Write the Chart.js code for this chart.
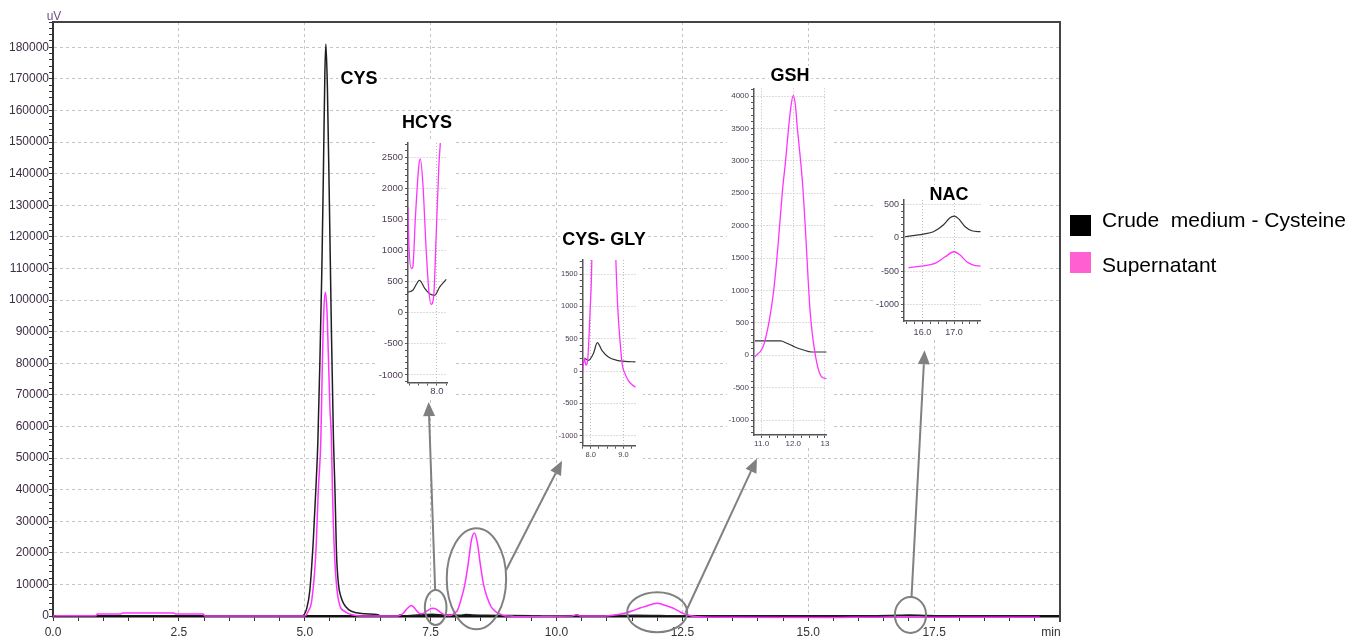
<!DOCTYPE html>
<html>
<head>
<meta charset="utf-8">
<script src="https://cdn.jsdelivr.net/npm/chart.js@4.4.0/dist/chart.umd.min.js"></script>
<style>
  html, body { margin: 0; padding: 0; background: #fff; }
  body { width: 1354px; height: 642px; position: relative; overflow: hidden; font-family: "Liberation Sans", Arial, sans-serif; }
  #main { position: absolute; left: 0; top: 0; }
  .inset { position: absolute; background: #fff; }
  .tag { position: absolute; font-weight: bold; font-size: 18px; line-height: 18px; background: #fff; padding: 0 2px; transform: translate(-50%, -50%); white-space: nowrap; color: #000; }
  .unit { position: absolute; font-size: 12px; line-height: 12px; transform: translate(-50%, -50%); white-space: nowrap; }
  .key { position: absolute; width: 21px; height: 21px; }
  .keytext { position: absolute; left: 1102px; font-size: 21px; line-height: 21px; white-space: pre; color: #000; }
</style>
</head>
<body>
<canvas id="main" width="1354" height="642"></canvas>
<canvas id="hcys" class="inset"></canvas>
<canvas id="cysgly" class="inset"></canvas>
<canvas id="gsh" class="inset"></canvas>
<canvas id="nac" class="inset"></canvas>

<div class="unit" style="left:54px; top:16px; color:#6e4f80;">uV</div>
<div class="unit" style="left:1051px; top:632px; color:#333;">min</div>

<div class="tag" style="left:359px; top:78px;">CYS</div>
<div class="tag" style="left:427px; top:122px;">HCYS</div>
<div class="tag" style="left:604px; top:239px;">CYS- GLY</div>
<div class="tag" style="left:790px; top:75px;">GSH</div>
<div class="tag" style="left:949px; top:194px;">NAC</div>

<div class="key" style="left:1070px; top:215px; background:#000;"></div>
<div class="keytext" style="top:209px;">Crude  medium - Cysteine</div>
<div class="key" style="left:1070px; top:252px; background:#ff5fd0;"></div>
<div class="keytext" style="top:254px;">Supernatant</div>

<script>
// ---- main chromatogram (time in min, signal in uV) ----
const crudeTime = [0, 4.94, 5.04, 5.1, 5.17, 5.22, 5.26, 5.3, 5.34, 5.37, 5.4, 5.42, 5.45, 5.49, 5.53, 5.57, 5.6, 5.63, 5.67, 5.72, 5.77, 5.87, 6.03, 6.2, 6.43, 6.5, 6.85, 6.9, 6.95, 7.3, 7.53, 7.8, 8.08, 8.2, 8.34, 8.6, 9.1, 10.35, 10.4, 10.48, 11.6, 12.05, 12.6, 15.5, 16.35, 16.66, 17.0, 17.35, 17.84, 19.6];
const crudeSignal = [0, 0, 2400, 8000, 24000, 40000, 55000, 80000, 110000, 140000, 172000, 181000, 167000, 130000, 90000, 56000, 40000, 20000, 10000, 6000, 4000, 2000, 1000, 700, 500, 100, 0, 400, 0, 360, 520, 305, 270, 440, 320, 200, 150, 0, 400, 0, 220, 130, 50, 15, 90, 190, 325, 165, 90, 50];

const superTime = [0, 0.08, 0.85, 0.88, 1.35, 1.38, 2.4, 2.43, 2.98, 3.02, 5.0, 5.07, 5.14, 5.22, 5.27, 5.32, 5.35, 5.38, 5.41, 5.44, 5.47, 5.5, 5.53, 5.55, 5.59, 5.67, 5.8, 5.97, 6.1, 6.85, 6.95, 7.05, 7.12, 7.18, 7.22, 7.28, 7.33, 7.42, 7.51, 7.55, 7.62, 7.71, 7.78, 7.84, 7.91, 7.98, 8.03, 8.1, 8.18, 8.25, 8.31, 8.37, 8.43, 8.49, 8.55, 8.62, 8.7, 8.77, 8.83, 8.9, 8.97, 9.05, 9.15, 9.38, 9.7, 10.3, 10.4, 10.48, 10.79, 11.08, 11.37, 11.52, 11.66, 11.76, 11.85, 11.93, 12.0, 12.07, 12.13, 12.23, 12.31, 12.4, 12.53, 12.69, 12.9, 13.06, 15.56, 16.03, 16.4, 16.72, 17.0, 17.19, 17.4, 17.61, 17.84, 19.6];
const superSignal = [0, 100, 100, 630, 630, 950, 950, 630, 630, 0, 0, 1500, 5000, 20000, 40000, 56000, 80000, 97000, 102500, 97000, 82000, 66000, 56000, 40000, 20000, 5000, 1400, 300, 0, 0, 800, 2600, 3300, 2500, 1700, 800, 700, 1540, 2350, 2470, 2080, 1000, 360, 135, 250, 1000, 1700, 5000, 10000, 17000, 24000, 26300, 23000, 16000, 10000, 6000, 3000, 1700, 966, 450, 90, -40, -145, -250, -100, 0, 400, 0, -25, 180, 950, 1700, 2546, 3010, 3500, 3850, 4010, 3850, 3500, 3010, 2546, 1800, 695, 25, -335, -360, -450, -420, -385, -285, -210, -260, -360, -410, -425, -430];

// ---- zoomed panels ----
const hcysSuperTime = [7.22, 7.24, 7.31, 7.35, 7.42, 7.51, 7.55, 7.62, 7.71, 7.78, 7.84, 7.91, 7.98, 8.05, 8.09, 8.12];
const hcysSuper = [1700, 1166, 710, 735, 1540, 2350, 2470, 2080, 1000, 360, 135, 250, 1270, 2350, 2735, 3200];
const hcysCrudeTime = [7.22, 7.35, 7.53, 7.67, 7.8, 7.94, 8.07, 8.25];
const hcysCrude = [330, 360, 520, 390, 305, 280, 410, 535];

const cysglySuperTime = [7.75, 7.8, 7.85, 7.91, 7.98, 8.03, 8.1, 8.18, 8.25, 8.31, 8.37, 8.43, 8.49, 8.55, 8.62, 8.7, 8.77, 8.83, 8.9, 8.97, 9.05, 9.15, 9.26, 9.38];
const cysglySuper = [10, 190, 90, 217, 966, 1714, 5000, 10000, 17000, 24000, 26300, 23000, 16000, 10000, 6000, 3000, 1714, 966, 450, 90, -40, -145, -210, -250];
const cysglyCrudeTime = [7.8, 7.93, 8.08, 8.2, 8.34, 8.54, 8.8, 9.05, 9.38];
const cysglyCrude = [200, 165, 270, 440, 320, 217, 165, 150, 140];

const gshSuperTime = [10.79, 11.08, 11.37, 11.52, 11.66, 11.76, 11.85, 11.93, 12.0, 12.07, 12.13, 12.23, 12.31, 12.4, 12.53, 12.69, 12.9, 13.06];
const gshSuper = [-25, 180, 950, 1700, 2546, 3010, 3500, 3850, 4010, 3850, 3500, 3010, 2546, 1800, 695, 25, -335, -360];
const gshCrudeTime = [10.79, 11.6, 11.8, 12.05, 12.3, 12.58, 13.06];
const gshCrude = [220, 220, 185, 128, 85, 50, 50];

const nacSuperTime = [15.56, 16.03, 16.4, 16.72, 17.0, 17.19, 17.4, 17.61, 17.84];
const nacSuper = [-450, -420, -385, -285, -210, -260, -360, -410, -425];
const nacCrudeTime = [15.45, 16.03, 16.35, 16.66, 16.87, 17.0, 17.13, 17.35, 17.56, 17.84];
const nacCrude = [15, 55, 90, 190, 300, 325, 290, 165, 105, 90];

// callouts on the main trace: [centre min, centre uV, half-width min, half-height uV]
const rings = [[7.60, 2690, 0.215, 5540], [8.41, 11770, 0.59, 15980], [12.0, 1170, 0.596, 6330], [17.03, 316, 0.31, 5690]];
// arrows: [from min, from uV, to min, to uV]
const arrows = [[7.59, 8220, 7.46, 67700], [9.0, 14540, 10.11, 49100], [12.56, 1040, 13.98, 49860], [17.05, 5690, 17.31, 84100]];

const PINK = "#ff33ff";
const BLACK = "#1e1e1e";

Chart.defaults.font.family = "'Liberation Sans', Arial, sans-serif";
Chart.defaults.animation = false;

const pts = (t, v) => t.map((x, i) => ({ x, y: v[i] }));
const onStep = (v, step) => Math.abs(v / step - Math.round(v / step)) < 1e-6;

function fitY(w) {
  return s => { s.width = w; s.paddingTop = 0; s.paddingBottom = 0; };
}
function fitX(h) {
  return s => { s.height = h; s.paddingLeft = 0; s.paddingRight = 0; };
}

const calloutPlugin = {
  id: "callouts",
  afterDraw(chart) {
    const { ctx, chartArea: a, scales: { x, y } } = chart;
    ctx.save();
    // frame top + right
    ctx.strokeStyle = "#444";
    ctx.lineWidth = 2;
    ctx.beginPath();
    ctx.moveTo(a.left, a.top);
    ctx.lineTo(a.right, a.top);
    ctx.lineTo(a.right, a.bottom + 6);
    ctx.stroke();

    ctx.strokeStyle = "#808080";
    ctx.fillStyle = "#808080";
    ctx.lineWidth = 2;
    rings.forEach(([cx, cy, rx, ry]) => {
      const px = x.getPixelForValue(cx), py = y.getPixelForValue(cy);
      const w = x.getPixelForValue(cx + rx) - px;
      const h = py - y.getPixelForValue(cy + ry);
      ctx.beginPath();
      ctx.ellipse(px, py, w, h, 0, 0, Math.PI * 2);
      ctx.stroke();
    });
    arrows.forEach(([x1, y1, x2, y2]) => {
      const ax = x.getPixelForValue(x1), ay = y.getPixelForValue(y1);
      const bx = x.getPixelForValue(x2), by = y.getPixelForValue(y2);
      const ang = Math.atan2(by - ay, bx - ax);
      const len = 14, half = 6;
      const ex = bx - Math.cos(ang) * len, ey = by - Math.sin(ang) * len;
      ctx.beginPath();
      ctx.moveTo(ax, ay);
      ctx.lineTo(ex, ey);
      ctx.stroke();
      ctx.beginPath();
      ctx.moveTo(bx, by);
      ctx.lineTo(ex + Math.sin(ang) * half, ey - Math.cos(ang) * half);
      ctx.lineTo(ex - Math.sin(ang) * half, ey + Math.cos(ang) * half);
      ctx.closePath();
      ctx.fill();
    });
    ctx.restore();
  }
};

new Chart(document.getElementById("main"), {
  type: "line",
  data: {
    datasets: [
      { label: "Supernatant", data: pts(superTime, superSignal), borderColor: PINK, borderWidth: 1.5,
        pointRadius: 0, cubicInterpolationMode: "monotone", clip: { left: 0, top: 0, right: 0, bottom: 4 } },
      { label: "Crude  medium - Cysteine", data: pts(crudeTime, crudeSignal), borderColor: BLACK, borderWidth: 1.5,
        pointRadius: 0, cubicInterpolationMode: "monotone" }
    ]
  },
  options: {
    responsive: false,
    events: [],
    layout: { padding: { top: 22, right: 294, left: 0, bottom: 0 } },
    plugins: { legend: { display: false }, tooltip: { enabled: false } },
    scales: {
      x: {
        type: "linear", min: 0, max: 20,
        ticks: {
          stepSize: 0.5, autoSkip: false, maxRotation: 0, padding: 4, color: "#333",
          font: { size: 12 },
          callback: v => (onStep(v, 2.5) && v < 20) ? v.toFixed(1) : ""
        },
        grid: {
          color: c => (onStep(c.tick.value, 2.5) && c.tick.value > 0 && c.tick.value < 20) ? "#c4c4c4" : "rgba(0,0,0,0)",
          tickColor: "#333", tickLength: 5, lineWidth: 1
        },
        border: { color: "#111", width: 2.5, dash: [3, 3] },
        afterFit: fitX(26)
      },
      y: {
        min: 0, max: 188000,
        ticks: {
          stepSize: 2000, autoSkip: false, includeBounds: false, padding: 0, color: "#3d2d45",
          font: { size: 12 },
          callback: v => onStep(v, 10000) ? String(v) : ""
        },
        grid: {
          color: c => (onStep(c.tick.value, 10000) && c.tick.value > 0) ? "#c4c4c4" : "rgba(0,0,0,0)",
          tickColor: "#333", tickLength: 4, lineWidth: 1
        },
        border: { color: "#333", width: 2, dash: [3, 3] },
        afterFit: fitY(53)
      }
    }
  },
  plugins: [calloutPlugin]
});

// small zoomed panels laid over the main trace
function drawInset(id, box, opt) {
  const canvas = document.getElementById(id);
  const left = Math.round(box.l - opt.yw);
  const top = Math.round(box.t - 4);
  const width = Math.ceil(box.r - left + 7);
  const height = Math.ceil(box.b - top + opt.xh);
  canvas.width = width;
  canvas.height = height;
  canvas.style.left = left + "px";
  canvas.style.top = top + "px";

  const yw = box.l - left;
  const padTop = box.t - top;
  const padRight = width - (box.r - left);
  const xh = height - (box.b - top);
  const label = "#4b3d55";

  new Chart(canvas, {
    type: "line",
    data: {
      datasets: [
        { data: pts(opt.superTime, opt.superVals), borderColor: PINK, borderWidth: 1.3, pointRadius: 0, cubicInterpolationMode: "monotone" },
        { data: pts(opt.crudeTime, opt.crudeVals), borderColor: "#333", borderWidth: 1.2, pointRadius: 0, cubicInterpolationMode: "monotone" }
      ]
    },
    options: {
      responsive: false,
      events: [],
      layout: { padding: { top: padTop, right: padRight, left: 0, bottom: 0 } },
      plugins: { legend: { display: false }, tooltip: { enabled: false } },
      scales: {
        x: {
          type: "linear", min: opt.xMin, max: opt.xMax,
          ticks: {
            stepSize: 0.25, autoSkip: false, includeBounds: false, maxRotation: 0, padding: opt.xPad, color: label,
            font: { size: opt.fs },
            callback: v => onStep(v, 1) ? (opt.fmt ? opt.fmt(v) : v.toFixed(1)) : ""
          },
          grid: {
            color: c => onStep(c.tick.value, 1) ? "#bdbdbd" : "rgba(0,0,0,0)",
            tickColor: "#555", tickLength: 3, lineWidth: 1
          },
          border: { color: "#555", width: 1.5, dash: [1, 2] },
          afterFit: fitX(xh)
        },
        y: {
          min: opt.yMin, max: opt.yMax,
          ticks: {
            stepSize: 100, autoSkip: false, includeBounds: false, padding: 2, color: label,
            font: { size: opt.fs },
            callback: v => onStep(v, 500) ? String(v) : ""
          },
          grid: {
            color: c => onStep(c.tick.value, 500) ? "#bdbdbd" : "rgba(0,0,0,0)",
            tickColor: "#555", tickLength: 3, lineWidth: 1
          },
          border: { color: "#555", width: 1.5, dash: [1, 2] },
          afterFit: fitY(yw)
        }
      }
    }
  });
}

drawInset("hcys", { l: 408, t: 143, r: 447, b: 382.5 }, {
  yw: 33, xh: 14, xPad: 0, fs: 9.5, xMin: 7.22, xMax: 8.27, yMin: -1121, yMax: 2726,
  superTime: hcysSuperTime, superVals: hcysSuper, crudeTime: hcysCrudeTime, crudeVals: hcysCrude
});
drawInset("cysgly", { l: 582.7, t: 260, r: 635.7, b: 445.7 }, {
  yw: 25, xh: 14, xPad: 2, fs: 7.5, xMin: 7.75, xMax: 9.38, yMin: -1155, yMax: 1717,
  superTime: cysglySuperTime, superVals: cysglySuper, crudeTime: cysglyCrudeTime, crudeVals: cysglyCrude
});
drawInset("gsh", { l: 754, t: 88.3, r: 826.5, b: 435 }, {
  yw: 27, xh: 13, xPad: 1, fs: 8, xMin: 10.76, xMax: 13.05, yMin: -1231, yMax: 4119,
  fmt: v => (Math.round(v) === 13 ? "13" : v.toFixed(1)),
  superTime: gshSuperTime, superVals: gshSuper, crudeTime: gshCrudeTime, crudeVals: gshCrude
});
drawInset("nac", { l: 904, t: 200, r: 980.7, b: 321 }, {
  yw: 31, xh: 17, xPad: 3, fs: 9, xMin: 15.42, xMax: 17.84, yMin: -1247, yMax: 565,
  superTime: nacSuperTime, superVals: nacSuper, crudeTime: nacCrudeTime, crudeVals: nacCrude
});
</script>
</body>
</html>
